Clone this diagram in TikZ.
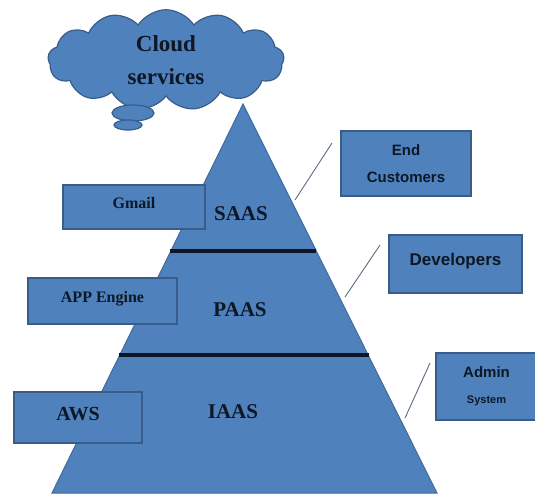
\documentclass[tikz,border=0pt]{standalone}
\usepackage{fontspec}
\setmainfont{Liberation Serif}
\setsansfont{Liberation Sans}
\usetikzlibrary{shapes.symbols}
\definecolor{pyrblue}{HTML}{4F81BD}
\definecolor{pyredge}{HTML}{3F6A9E}
\definecolor{boxedge}{HTML}{385D8A}
\definecolor{inkdark}{HTML}{0E1726}
\definecolor{linkgray}{HTML}{5B6B84}
\tikzset{
  infobox/.style={draw=boxedge, fill=pyrblue, line width=1.6pt, rectangle,
    inner sep=0pt, align=center, text=inkdark},
  layer/.style={text=inkdark, font=\fontsize{21}{24}\selectfont\bfseries},
  link/.style={draw=linkgray, line width=0.9pt},
  divider/.style={draw=inkdark, line width=3.5pt}
}
\begin{document}
\begin{tikzpicture}[x=1pt,y=-1pt]
\useasboundingbox (0,0) rectangle (535,495);
	% pyramid
	\coordinate (apex) at (243,104);
	\coordinate (bl) at (52,493);
	\coordinate (br) at (437,493);
	\filldraw[fill=pyrblue, draw=pyredge, line width=1pt] (apex) -- (bl) -- (br) -- cycle;
	\draw[divider] (170,251) -- (316,251);
	\draw[divider] (119,355) -- (369,355);
	\node[layer] (saas) at (241,214) {SAAS};
	\node[layer] (paas) at (240,310) {PAAS};
	\node[layer] (iaas) at (233,412) {IAAS};

	% cloud and its bubbles
	\node[cloud, cloud puffs=13, cloud puff arc=115, aspect=2.3, draw=boxedge, fill=pyrblue,
		line width=1.2pt, minimum width=236pt, minimum height=100pt, align=center, text=inkdark,
		font=\fontsize{23}{33}\selectfont\bfseries] (cloud) at (166,60) {Cloud\\services};
	\filldraw[fill=pyrblue, draw=boxedge, line width=1.2pt] (133,113) ellipse [x radius=21pt, y radius=8pt];
	\filldraw[fill=pyrblue, draw=boxedge, line width=1.2pt] (128,125) ellipse [x radius=14pt, y radius=5pt];

	% users on the right
	\node[infobox, minimum width=130pt, minimum height=65pt,
		font=\sffamily\bfseries\fontsize{15}{27}\selectfont] (users) at (406,163.5) {End\\Customers};
	\node[infobox, minimum width=133pt, minimum height=58pt, text depth=10pt,
		font=\sffamily\bfseries\fontsize{17}{20}\selectfont] (devs) at (455.5,264) {Developers};
	\node[infobox, minimum width=101pt, minimum height=67pt,
		font=\sffamily\bfseries\fontsize{15}{26}\selectfont] (admin) at (486.5,386.5) {Admin\\{\fontsize{11}{13}\selectfont System}};

	\coordinate (usersA) at (332,143);
	\coordinate (usersB) at (295,200);
	\coordinate (devsA) at (380,245);
	\coordinate (devsB) at (345,297);
	\coordinate (adminA) at (430,363);
	\coordinate (adminB) at (405,418);
	\draw[link] (usersA) -- (usersB);
	\draw[link] (devsA) -- (devsB);
	\draw[link] (adminA) -- (adminB);

	% examples on the left
	\node[infobox, minimum width=142pt, minimum height=44pt, text depth=8pt,
		font=\fontsize{16}{19}\selectfont\bfseries] (gmail) at (134,207) {Gmail};
	\node[infobox, minimum width=149pt, minimum height=46pt, text depth=8pt,
		font=\fontsize{16}{19}\selectfont\bfseries] (engine) at (102.5,301) {APP Engine};
	\node[infobox, minimum width=128pt, minimum height=51pt, text depth=8pt,
		font=\fontsize{20}{23}\selectfont\bfseries] (aws) at (78,417.5) {AWS};
\end{tikzpicture}
\end{document}
